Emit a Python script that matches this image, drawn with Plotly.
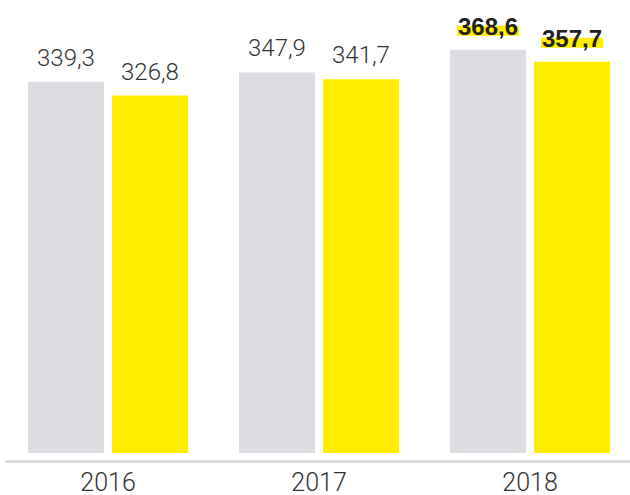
import plotly.graph_objects as go

years = ["2016", "2017", "2018"]
series_a = [339.3, 347.9, 368.6]
series_b = [326.8, 341.7, 357.7]
highlight_year = "2018"

GRAY = "#dcdde0"
YELLOW = "#ffed00"
TEXT = "#333333"
FONT = "Roboto, Liberation Sans, Arial, sans-serif"
BFONT = "Liberation Sans, Arial, sans-serif"

fig = go.Figure()
fig.add_trace(go.Bar(x=years, y=series_a, marker=dict(color=GRAY, line=dict(width=0)), hoverinfo="skip"))
fig.add_trace(go.Bar(x=years, y=series_b, marker=dict(color=YELLOW, line=dict(width=0)), hoverinfo="skip"))

def fmt(v):
    return f"{v:.1f}".replace(".", ",")

annotations = []
shapes = []
for i, yr in enumerate(years):
    for vals, dx in ((series_a, -42), (series_b, 42)):
        v = vals[i]
        bold = yr == highlight_year
        txt = f"<b>{fmt(v)}</b>" if bold else fmt(v)
        annotations.append(dict(
            x=i, y=v, xref="x", yref="y", text=txt, showarrow=False,
            xshift=dx, yanchor="bottom", yshift=8,
            font=dict(family=BFONT if bold else FONT, size=24,
                      color="#222222" if bold else TEXT,
                      weight=700 if bold else 300),
        ))
        if bold:
            shapes.append(dict(
                type="rect", layer="below",
                xref="x", yref="y", xsizemode="pixel", ysizemode="pixel",
                xanchor=i, yanchor=v,
                x0=dx - 31, x1=dx + 31, y0=14, y1=24,
                fillcolor=YELLOW, line=dict(width=0),
            ))

fig.update_layout(
    width=630, height=495,
    margin=dict(l=5, r=0, t=0, b=35),
    paper_bgcolor="white", plot_bgcolor="white",
    barmode="group", bargap=0.2038, bargroupgap=0.0952,
    showlegend=False,
    annotations=annotations, shapes=shapes,
    xaxis=dict(
        type="category", range=[-0.4882, 2.4739], automargin=False,
        showgrid=False, zeroline=False,
        showline=True, linecolor="#dcdcdc", linewidth=3,
        ticks="", ticklabelstandoff=-2,
        tickfont=dict(family=FONT, size=25, color=TEXT, weight=300),
    ),
    yaxis=dict(range=[-6.4, 414.1], visible=False, automargin=False,
               showgrid=False, zeroline=False),
)

fig.write_html("out.html", config={"displayModeBar": False},
               post_script="document.body.style.margin='0';")
